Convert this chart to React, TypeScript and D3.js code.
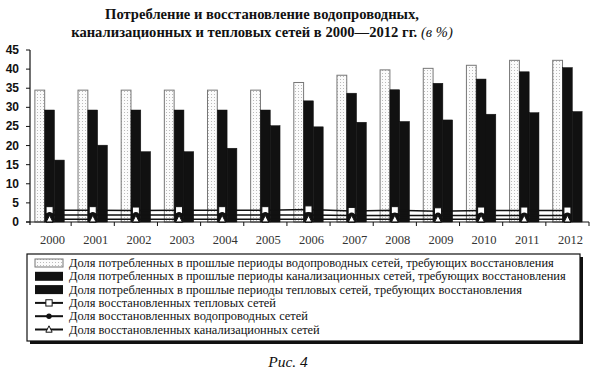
import React from "react";
import * as d3 from "d3";

const years = ["2000","2001","2002","2003","2004","2005","2006","2007","2008","2009","2010","2011","2012"];
const waterNeed = [34.5,34.5,34.5,34.5,34.5,34.5,36.5,38.4,39.8,40.2,41.0,42.3,42.3];
const sewerNeed = [29.3,29.3,29.3,29.3,29.3,29.3,31.7,33.7,34.6,36.3,37.4,39.3,40.4];
const heatNeed = [16.2,20.1,18.4,18.4,19.3,25.2,24.9,26.1,26.3,26.7,28.2,28.6,28.9];
const heatRestored = [3.1,3.1,3.0,3.1,3.1,3.1,3.3,2.9,3.1,2.8,3.0,3.0,3.0];
const waterRestored = [1.8,1.8,1.8,1.8,1.8,1.8,1.8,1.7,1.7,1.7,1.7,1.7,1.7];
const sewerRestored = [0.7,0.7,0.7,0.7,0.7,0.7,0.7,0.7,0.7,0.7,0.7,0.7,0.7];
const yTicks = [0,5,10,15,20,25,30,35,40,45];
const legendLabels = [
  "Доля потребленных в прошлые периоды водопроводных сетей, требующих восстановления",
  "Доля потребленных в прошлые периоды канализационных сетей, требующих восстановления",
  "Доля потребленных в прошлые периоды тепловых сетей, требующих восстановления",
  "Доля восстановленных тепловых сетей",
  "Доля восстановленных водопроводных сетей",
  "Доля восстановленных канализационных сетей",
];

const W = 595, H = 376;
const left = 28, right = 589, top = 50, bottom = 222;

export default function App() {
  const x = d3.scaleBand<string>().domain(years).range([left, right]).padding(0);
  const y = d3.scaleLinear().domain([0, 45]).range([bottom, top]);
  const bw = 9.8;
  const cx = (i: number) => (x(years[i]) as number) + x.bandwidth() / 2;
  const barSeries = [
    { vals: waterNeed, off: -1, fill: "url(#dots)", stroke: "#777" },
    { vals: sewerNeed, off: 0, fill: "#111", stroke: "#111" },
    { vals: heatNeed, off: 1, fill: "#111", stroke: "#111" },
  ];
  const line = d3.line<number>().x((_, i) => cx(i)).y((v) => y(v));
  const serif = "'Liberation Serif', 'Times New Roman', serif";
  const sans = "'Liberation Sans', Arial, sans-serif";

  const marker = (kind: string, mx: number, my: number, key: string, s = 1) => {
    if (kind === "square")
      return <rect key={key} x={mx - 3.5 * s} y={my - 3.5 * s} width={7 * s} height={7 * s} fill="#fff" stroke="#111" strokeWidth={1} />;
    if (kind === "circle")
      return <circle key={key} cx={mx} cy={my} r={3 * s} fill="#111" />;
    const h = 6 * s;
    return <path key={key} d={`M${mx},${my - h / 2 - 1} L${mx + 3.5 * s},${my + h / 2} L${mx - 3.5 * s},${my + h / 2} Z`} fill="#fff" stroke="#111" strokeWidth={1} />;
  };
  const lineSeries = [
    { vals: heatRestored, kind: "square" },
    { vals: waterRestored, kind: "circle" },
    { vals: sewerRestored, kind: "triangle" },
  ];

  return (
    <svg width={W} height={H} style={{ position: "absolute", left: 0, top: 0, background: "#fff" }}>
      <defs>
        <pattern id="dots" width="3" height="3" patternUnits="userSpaceOnUse">
          <rect width="3" height="3" fill="#fbfbfb" />
          <rect x="1" y="1" width="1" height="1" fill="#bbb" />
        </pattern>
      </defs>
      <text x={262} y={19} textAnchor="middle" fontFamily={serif} fontWeight="bold" fontSize={14.6} fill="#111">
        Потребление и восстановление водопроводных,
      </text>
      <text x={262} y={37} textAnchor="middle" fontFamily={serif} fontSize={14.6} fill="#111">
        <tspan fontWeight="bold">канализационных и тепловых сетей в 2000—2012 гг. </tspan>
        <tspan fontStyle="italic">(в %)</tspan>
      </text>

      {barSeries.map((s, si) =>
        s.vals.map((v, i) => (
          <rect key={`b${si}-${i}`} x={cx(i) + s.off * bw - bw / 2} y={y(v)} width={bw} height={bottom - y(v)}
            fill={s.fill} stroke={s.stroke} strokeWidth={si === 0 ? 1 : 0.5} />
        ))
      )}

      {lineSeries.map((s, si) => (
        <g key={`l${si}`}>
          <path d={line(s.vals) as string} fill="none" stroke="#111" strokeWidth={1.5} />
          {s.vals.map((v, i) => marker(s.kind, cx(i), y(v), `m${si}-${i}`))}
        </g>
      ))}

      {/* axes */}
      <line x1={30} y1={top} x2={30} y2={bottom + 3} stroke="#111" strokeWidth={1.2} />
      <line x1={26} y1={bottom} x2={right} y2={bottom} stroke="#111" strokeWidth={1.2} />
      {yTicks.map((t) => (
        <g key={`yt${t}`}>
          <line x1={26} x2={30} y1={y(t)} y2={y(t)} stroke="#111" strokeWidth={1} />
          <text x={19} y={y(t) + 4} textAnchor="end" fontFamily={sans} fontWeight="bold" fontSize={12} fill="#111">{t}</text>
        </g>
      ))}
      {years.map((yr, i) => (
        <g key={`xt${yr}`}>
          <line x1={(x(yr) as number) + x.bandwidth()} x2={(x(yr) as number) + x.bandwidth()} y1={bottom} y2={bottom + 4} stroke="#111" strokeWidth={1} />
          <text x={cx(i) + 3} y={bottom + 22} textAnchor="middle" fontFamily={serif} fontSize={12.5} fill="#333">{yr}</text>
        </g>
      ))}

      {/* legend */}
      <rect x={30} y={257} width={553} height={87} fill="#111" />
      <rect x={27} y={254} width={553} height={87} fill="#fff" stroke="#111" strokeWidth={1.2} />
      {legendLabels.map((lab, i) => {
        const ly = 263 + i * 13.3;
        let sym;
        if (i === 0) sym = <rect x={35} y={ly - 4} width={28} height={8} fill="url(#dots)" stroke="#777" strokeWidth={1} />;
        else if (i < 3) sym = <rect x={35} y={ly - 4.5} width={28} height={9} fill="#111" />;
        else
          sym = (
            <g>
              <line x1={35} x2={63} y1={ly} y2={ly} stroke="#111" strokeWidth={2} />
              {marker(["square", "circle", "triangle"][i - 3], 49, ly, `lm${i}`, 0.9)}
            </g>
          );
        return (
          <g key={`lg${i}`}>
            {sym}
            <text x={69} y={ly + 4} fontFamily={serif} fontSize={12.4} fill="#111">{lab}</text>
          </g>
        );
      })}

      <text x={288} y={367} textAnchor="middle" fontFamily={serif} fontStyle="italic" fontSize={15.5} fill="#111">Рис. 4</text>
    </svg>
  );
}
